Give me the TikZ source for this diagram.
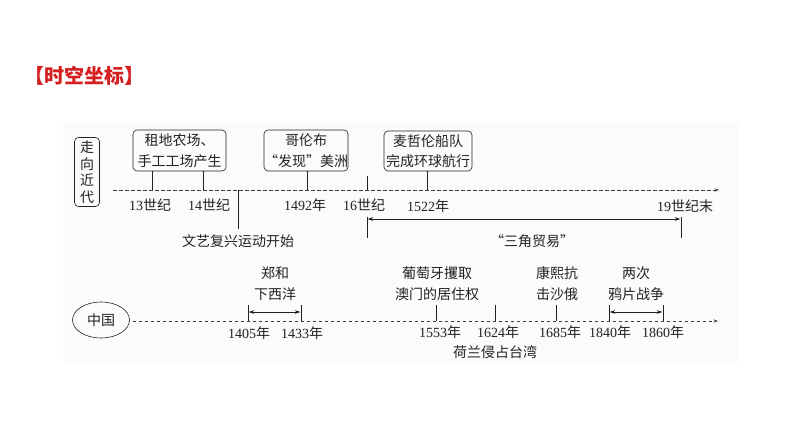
\documentclass[tikz,border=0pt]{standalone}
\usepackage{fontspec}
\setmainfont{Liberation Serif}
\newfontfamily\cjk{Noto Sans CJK SC}
\usetikzlibrary{arrows.meta,shapes.geometric}
\newcommand\zh[1]{{\cjk #1}}
\definecolor{titlered}{HTML}{D42020}
\definecolor{ink}{HTML}{222222}
\begin{document}
\begin{tikzpicture}[x=1pt,y=-1pt,
  lbl/.style={font=\fontsize{14}{20.5}\selectfont, text=ink, inner sep=0pt, align=center},
  evbox/.style={lbl, draw=ink, line width=0.6pt, rounded corners=4pt},
  tickln/.style={draw=ink, line width=0.6pt},
  axisln/.style={draw=black!75, line width=0.7pt, dash pattern=on 3.5pt off 2.5pt, -{Stealth[length=4.5pt,width=3.2pt]}},
  spanln/.style={draw=ink, line width=0.6pt, {Stealth[length=5.5pt,width=3.6pt]}-{Stealth[length=5.5pt,width=3.6pt]}, shorten <=0.6pt, shorten >=0.6pt}
]
\useasboundingbox (0,0) rectangle (794,446);
\fill[black!1.5] (63,122) rectangle (738,363);

% title
\node[font=\fontsize{20}{22}\selectfont\bfseries, text=titlered, inner sep=0pt] (title) at (84,76) {\zh{【时空坐标】}};

% ---- upper timeline ----
\node[lbl, draw=ink, line width=0.6pt, rounded corners=4pt, minimum width=25pt, minimum height=69pt,
      font=\fontsize{14}{16.5}\selectfont] (modern) at (87,172) {\zh{走}\\\zh{向}\\\zh{近}\\\zh{代}};
\coordinate (a1s) at (113,190);
\coordinate (a1e) at (719,190);
\draw[axisln] (a1s) -- (a1e);

\node[evbox, minimum width=93pt, minimum height=41pt] (b1) at (179.5,150.5) {\zh{租地农场、}\\\zh{手工工场产生}};
\node[evbox, minimum width=84pt, minimum height=41pt] (b2) at (306,150.5) {\zh{哥伦布}\\\zh{“发现”美洲}};
\node[evbox, minimum width=88pt, minimum height=40pt] (b3) at (428,151) {\zh{麦哲伦船队}\\\zh{完成环球航行}};

\coordinate (t13) at (152,190);
\coordinate (t14) at (203,190);
\coordinate (t1492) at (307,190);
\coordinate (t1522) at (427,190);
\coordinate (tren) at (238,190);
\coordinate (tren2) at (238,229);
\coordinate (t16a) at (367,176);
\coordinate (t16b) at (367,190);
\coordinate (t16c) at (367,217);
\coordinate (t16d) at (367,238);
\coordinate (t19a) at (681,217);
\coordinate (t19b) at (681,238);

\draw[tickln] (b1.south -| t13) -- (t13);
\draw[tickln] (b1.south -| t14) -- (t14);
\draw[tickln] (b2.south -| t1492) -- (t1492);
\draw[tickln] (b3.south -| t1522) -- (t1522);
\draw[tickln] (tren) -- (tren2);
\draw[tickln] (t16a) -- (t16b);
\draw[tickln] (t16c) -- (t16d);
\draw[tickln] (t19a) -- (t19b);
\draw[spanln] (367,219) coordinate (tri1) -- (681,219) coordinate (tri2);

\node[lbl] (l13) at (150,205) {13\zh{世纪}};
\node[lbl] (l14) at (209,205) {14\zh{世纪}};
\node[lbl] (l1492) at (305,205) {1492\zh{年}};
\node[lbl] (l16) at (364,205) {16\zh{世纪}};
\node[lbl] (l1522) at (428,206) {1522\zh{年}};
\node[lbl] (l19) at (685,206) {19\zh{世纪末}};
\node[lbl] (lren) at (238,241) {\zh{文艺复兴运动开始}};
\node[lbl] (ltri) at (532,241) {\zh{“三角贸易”}};

% ---- lower timeline ----
\node[lbl, draw=ink, line width=0.6pt, ellipse, minimum width=57pt, minimum height=36pt] (china) at (101,320) {\zh{中国}};
\coordinate (a2e) at (718,321);
\draw[axisln] (china.east) ++(3,1) coordinate (a2s) -- (a2e);

\coordinate (z1a) at (248,305); \coordinate (z1b) at (248,321);
\coordinate (z2a) at (301,305); \coordinate (z2b) at (301,321);
\draw[tickln] (z1a) -- (z1b);
\draw[tickln] (z2a) -- (z2b);
\draw[spanln] (248,312) coordinate (zs) -- (301,312) coordinate (ze);

\coordinate (p1a) at (436,305); \coordinate (p1b) at (436,321);
\coordinate (p2a) at (495,305); \coordinate (p2b) at (495,321);
\coordinate (p3a) at (556,305); \coordinate (p3b) at (556,321);
\draw[tickln] (p1a) -- (p1b);
\draw[tickln] (p2a) -- (p2b);
\draw[tickln] (p3a) -- (p3b);

\coordinate (o1a) at (609,305); \coordinate (o1b) at (609,321);
\coordinate (o2a) at (663,305); \coordinate (o2b) at (663,321);
\draw[tickln] (o1a) -- (o1b);
\draw[tickln] (o2a) -- (o2b);
\draw[spanln] (609,312) coordinate (os) -- (663,312) coordinate (oe);

\node[lbl] (zh) at (275,283.5) {\zh{郑和}\\\zh{下西洋}};
\node[lbl] (pt) at (437,283.5) {\zh{葡萄牙攫取}\\\zh{澳门的居住权}};
\node[lbl] (kx) at (557,283.5) {\zh{康熙抗}\\\zh{击沙俄}};
\node[lbl] (op) at (636,283.5) {\zh{两次}\\\zh{鸦片战争}};

\node[lbl] (l1405) at (249,333) {1405\zh{年}};
\node[lbl] (l1433) at (302,333) {1433\zh{年}};
\node[lbl] (l1553) at (440,332) {1553\zh{年}};
\node[lbl] (l1624) at (498,332) {1624\zh{年}};
\node[lbl] (l1685) at (560,332) {1685\zh{年}};
\node[lbl] (l1840) at (610,332) {1840\zh{年}};
\node[lbl] (l1860) at (663,332) {1860\zh{年}};
\node[lbl] (tw) at (495,352) {\zh{荷兰侵占台湾}};
\end{tikzpicture}
\end{document}
